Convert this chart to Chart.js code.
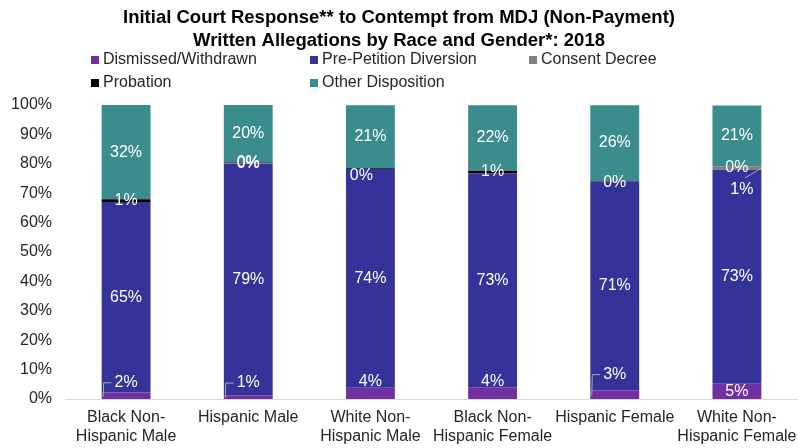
<!DOCTYPE html>
<html>
<head>
<meta charset="utf-8">
<script src="https://cdn.jsdelivr.net/npm/chart.js@4.4.1/dist/chart.umd.min.js"></script>
<style>
  html, body { margin: 0; padding: 0; background: #fff; }
  #wrap { position: relative; width: 798px; height: 448px; }
</style>
</head>
<body>
<div id="wrap"><canvas id="raceChart"></canvas></div>
<script>
// Initial court response by race and gender, 2018 (percent of allegations)
var categories = [
    ['Black Non-', 'Hispanic Male'], 'Hispanic Male', ['White Non-', 'Hispanic Male'],
    ['Black Non-', 'Hispanic Female'], 'Hispanic Female', ['White Non-', 'Hispanic Female']
];
var seriesNames = ['Dismissed/Withdrawn', 'Pre-Petition Diversion', 'Consent Decree', 'Probation', 'Other Disposition'];
var dismissed   = [2.2, 1.3, 3.8, 4.0, 3.0, 5.2];
var prePetition = [64.8, 78.7, 74.4, 72.8, 71.1, 72.8];
var consent     = [null, 0.2, null, null, null, 1.1];
var probation   = [0.9, 0.2, 0.3, 0.8, 0.1, 0.1];
var other       = [32.1, 19.6, 21.4, 22.3, 25.7, 20.6];
var yTicks = [0, 10, 20, 30, 40, 50, 60, 70, 80, 90, 100];

var seriesColors = ['#7030A0', '#333399', '#808080', '#000000', '#3B8C8C'];
var FONT = 'Arial, "Liberation Sans", sans-serif';

// label nudges for the small segments (key = dataset,category)
var labelTweaks = {
    '0,0': { dy: -13, leader: 'elbow' },
    '0,1': { dy: -14, leader: 'elbow' },
    '0,2': { dy: -12 },
    '0,3': { dy: -12 },
    '0,4': { dy: -20, leader: 'elbow' },
    '3,2': { dx: -9, dy: 7 },
    '3,4': { dy: 2 },
    '2,5': { dx: 5, dy: 22, leader: 'diag' },
    '3,5': { dy: 1 }
};

var segmentLabels = {
    id: 'segmentLabels',
    afterDatasetsDraw: function(chart) {
        var ctx = chart.ctx;
        ctx.save();
        ctx.font = '16px ' + FONT;
        ctx.textAlign = 'center';
        ctx.textBaseline = 'middle';
        chart.data.datasets.forEach(function(ds, di) {
            var meta = chart.getDatasetMeta(di);
            meta.data.forEach(function(el, ci) {
                var v = ds.data[ci];
                if (v === null || v === undefined) return;
                var txt = Math.round(v) + '%';
                var cy = (el.y + el.base) / 2;
                var tw = labelTweaks[di + ',' + ci] || {};
                var lx = el.x + (tw.dx || 0);
                var ly = cy + (tw.dy || 0);
                var w = ctx.measureText(txt).width;
                if (tw.leader === 'elbow') {
                    var left = el.x - el.width / 2 + 1.5;
                    ctx.strokeStyle = '#A6A6A6';
                    ctx.lineWidth = 1;
                    ctx.beginPath();
                    ctx.moveTo(left, cy + 1);
                    ctx.lineTo(left + 0.5, ly);
                    ctx.lineTo(lx - w / 2 - 3, ly);
                    ctx.stroke();
                } else if (tw.leader === 'diag') {
                    ctx.strokeStyle = '#A6A6A6';
                    ctx.lineWidth = 1;
                    ctx.beginPath();
                    ctx.moveTo(el.x + el.width / 2, cy);
                    ctx.lineTo(lx + 3, ly - 12);
                    ctx.stroke();
                }
                ctx.fillStyle = '#FFFFFF';
                ctx.fillText(txt, lx, ly);
            });
        });
        ctx.restore();
    }
};

var boxLegend = {
    id: 'boxLegend',
    afterDraw: function(chart) {
        var ctx = chart.ctx;
        var cols = [91, 310, 529];
        var rows = [60, 83];
        ctx.save();
        ctx.font = '16px ' + FONT;
        ctx.textAlign = 'left';
        ctx.textBaseline = 'middle';
        chart.data.datasets.forEach(function(ds, i) {
            var x = cols[i % 3];
            var y = rows[Math.floor(i / 3)];
            ctx.fillStyle = ds.backgroundColor;
            ctx.fillRect(x, y - 4, 8, 8);
            ctx.fillStyle = '#262626';
            ctx.fillText(ds.label, x + 12, y);
        });
        ctx.restore();
    }
};

var seriesData = [dismissed, prePetition, consent, probation, other];
var datasets = seriesNames.map(function(name, i) {
    return {
        label: name,
        data: seriesData[i],
        backgroundColor: seriesColors[i],
        borderWidth: 0,
        barPercentage: 0.4,
        categoryPercentage: 1.0
    };
});

new Chart(document.getElementById('raceChart'), {
    type: 'bar',
    data: { labels: categories, datasets: datasets },
    plugins: [segmentLabels, boxLegend],
    options: {
        responsive: true,
        maintainAspectRatio: false,
        animation: false,
        layout: { padding: { left: 0, right: 0, top: 0, bottom: 0 } },
        plugins: {
            legend: { display: false },
            tooltip: { enabled: false },
            title: {
                display: true,
                text: ['Initial Court Response** to Contempt from MDJ (Non-Payment)',
                       'Written Allegations by Race and Gender*: 2018'],
                color: '#000',
                font: { family: FONT, size: 18.5, weight: 'bold', lineHeight: 1.243 },
                padding: { top: 6, bottom: 53 }
            }
        },
        scales: {
            x: {
                stacked: true,
                grid: { display: true, drawTicks: false, color: 'rgba(0,0,0,0)' },
                border: { display: true, color: '#D9D9D9', width: 1 },
                ticks: {
                    color: '#262626',
                    font: { family: FONT, size: 16, lineHeight: 1.2 },
                    maxRotation: 0, autoSkip: false, padding: 9
                },
                afterFit: function(scale) {
                    scale.height = 49;
                    scale.paddingLeft = 0;
                    scale.paddingRight = 0;
                }
            },
            y: {
                stacked: true,
                min: 0, max: 100,
                grid: { display: false, drawTicks: false },
                border: { display: false },
                afterBuildTicks: function(scale) {
                    scale.ticks = yTicks.map(function(v) { return { value: v }; });
                },
                ticks: {
                    color: '#262626',
                    font: { family: FONT, size: 16 },
                    padding: 13,
                    callback: function(v) { return v + '%'; }
                },
                afterFit: function(scale) { scale.width = 65; }
            }
        }
    }
});
</script>
</body>
</html>
